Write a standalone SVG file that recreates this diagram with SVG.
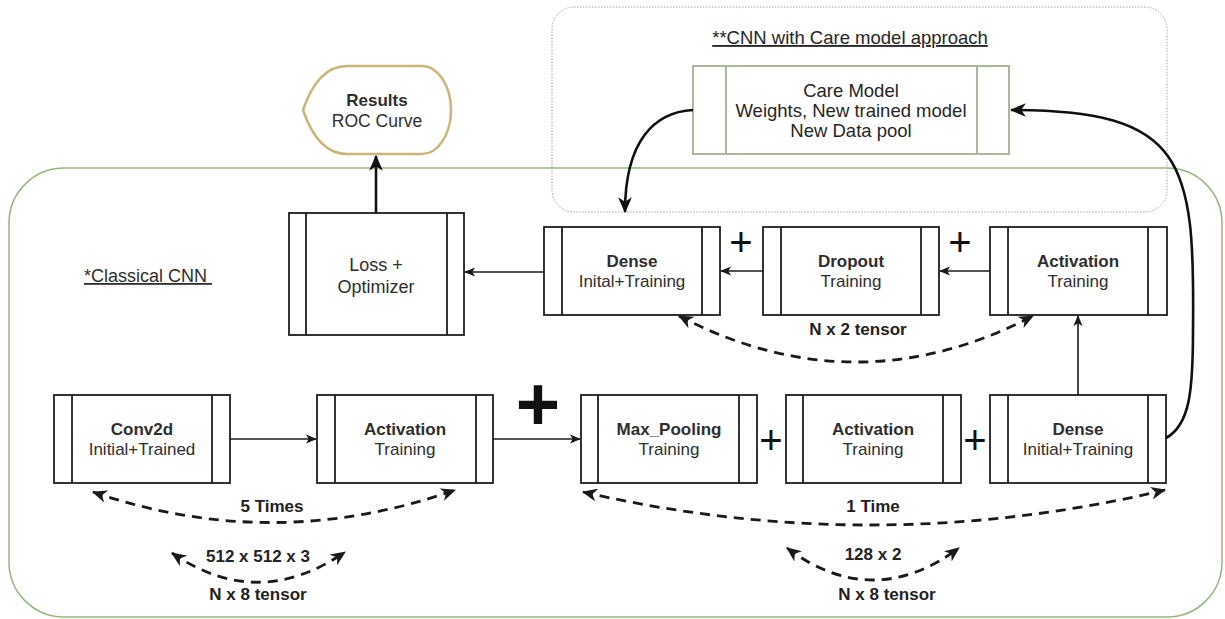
<svg xmlns="http://www.w3.org/2000/svg" width="1225" height="619" viewBox="0 0 1225 619">
  <style>
    text { font-family: "Liberation Sans", Arial, sans-serif; fill: #2e2e2e; text-anchor: middle; }
    .b { font-weight: bold; font-size: 17px; }
    .r { font-size: 17px; }
    .care { font-size: 18.5px; fill: #262626; }
    .lbl { font-weight: bold; font-size: 17px; fill: #222; }
    .plus { font-size: 40px; fill: #111; }
    .box { fill: #fff; stroke: #1e1e1e; stroke-width: 1.8; }
    .side { stroke: #1e1e1e; stroke-width: 1.8; }
    .gbox { fill: #fff; stroke: #a9b79a; stroke-width: 2; }
    .gside { stroke: #a9b79a; stroke-width: 2; }
    .thin { fill: none; stroke: #1a1a1a; stroke-width: 1.6; }
    .thick { fill: none; stroke: #111; stroke-width: 2.6; }
    .dash { fill: none; stroke: #1a1a1a; stroke-width: 2.8; stroke-dasharray: 10 7; }
  </style>
  <defs>
    <marker id="arrowSmall" viewBox="0 0 12 10" refX="11" refY="5" markerWidth="11" markerHeight="10" markerUnits="userSpaceOnUse" orient="auto">
      <path d="M0,0 L12,5 L0,10 L3,5 Z" fill="#1a1a1a"/>
    </marker>
    <marker id="arrowBig" viewBox="0 0 14 12" refX="13" refY="6" markerWidth="16" markerHeight="14" markerUnits="userSpaceOnUse" orient="auto">
      <path d="M0,0 L14,6 L0,12 L4,6 Z" fill="#111"/>
    </marker>
    <marker id="arrowDash" viewBox="0 0 14 12" refX="13" refY="6" markerWidth="15" markerHeight="13" markerUnits="userSpaceOnUse" orient="auto-start-reverse">
      <path d="M0,0 L14,6 L0,12 L4,6 Z" fill="#1a1a1a"/>
    </marker>
  </defs>

  <rect width="1225" height="619" fill="#fff"/>

  <!-- containers -->
  <g id="classical-cnn">
    <rect x="9" y="168" width="1213" height="449" rx="55" ry="55" fill="none" stroke="#93b97c" stroke-width="1.5"/>
    <text x="84" y="282" xml:space="preserve" style="font-size:18px;text-anchor:start;text-decoration:underline">*Classical CNN </text>
  </g>
  <g id="care-approach">
    <rect x="552" y="7" width="615" height="205" rx="22" ry="22" fill="none" stroke="#9ea3a8" stroke-width="1" stroke-dasharray="1.5 1.5"/>
    <text class="care" x="850" y="44" style="text-decoration:underline">**CNN with Care model approach</text>
  </g>

  <!-- nodes -->
  <g id="results">
    <path d="M303,110 Q318,66 347,66 L422,66 A29,44 0 0 1 451,110 A29,44 0 0 1 422,154 L347,154 Q318,154 303,110 Z" fill="#fff" stroke="#cbb57a" stroke-width="2.5"/>
    <text class="b" x="377" y="106">Results</text>
    <text class="r" x="377" y="127" style="font-size:17.5px">ROC Curve</text>
  </g>

  <g id="care-model">
    <rect class="gbox" x="693" y="66" width="316" height="88"/>
    <line class="gside" x1="726" y1="66" x2="726" y2="154"/>
    <line class="gside" x1="977" y1="66" x2="977" y2="154"/>
    <text class="care" x="851" y="97">Care Model</text>
    <text class="care" x="851" y="117">Weights, New trained model</text>
    <text class="care" x="851" y="137">New Data pool</text>
  </g>

  <g id="loss">
    <rect class="box" x="289" y="213" width="175" height="122"/>
    <line class="side" x1="306" y1="213" x2="306" y2="335"/>
    <line class="side" x1="447" y1="213" x2="447" y2="335"/>
    <text x="376" y="271" style="font-size:18px">Loss +</text>
    <text x="376" y="293" style="font-size:18px">Optimizer</text>
  </g>

  <g id="dense-top">
    <rect class="box" x="544" y="227" width="176" height="88"/>
    <line class="side" x1="562" y1="227" x2="562" y2="315"/>
    <line class="side" x1="702" y1="227" x2="702" y2="315"/>
    <text class="b" x="632" y="267">Dense</text>
    <text class="r" x="632" y="287">Inital+Training</text>
  </g>

  <g id="dropout">
    <rect class="box" x="763" y="227" width="176" height="88"/>
    <line class="side" x1="781" y1="227" x2="781" y2="315"/>
    <line class="side" x1="921" y1="227" x2="921" y2="315"/>
    <text class="b" x="851" y="267">Dropout</text>
    <text class="r" x="851" y="287">Training</text>
  </g>

  <g id="activation-top">
    <rect class="box" x="990" y="227" width="177" height="88"/>
    <line class="side" x1="1008" y1="227" x2="1008" y2="315"/>
    <line class="side" x1="1148" y1="227" x2="1148" y2="315"/>
    <text class="b" x="1078" y="267">Activation</text>
    <text class="r" x="1078" y="287">Training</text>
  </g>

  <g id="conv2d">
    <rect class="box" x="54" y="395" width="176" height="88"/>
    <line class="side" x1="72" y1="395" x2="72" y2="483"/>
    <line class="side" x1="212" y1="395" x2="212" y2="483"/>
    <text class="b" x="142" y="435">Conv2d</text>
    <text class="r" x="142" y="455">Initial+Trained</text>
  </g>

  <g id="activation-1">
    <rect class="box" x="317" y="395" width="176" height="88"/>
    <line class="side" x1="335" y1="395" x2="335" y2="483"/>
    <line class="side" x1="476" y1="395" x2="476" y2="483"/>
    <text class="b" x="405" y="435">Activation</text>
    <text class="r" x="405" y="455">Training</text>
  </g>

  <g id="max-pooling">
    <rect class="box" x="581" y="395" width="176" height="88"/>
    <line class="side" x1="598" y1="395" x2="598" y2="483"/>
    <line class="side" x1="739" y1="395" x2="739" y2="483"/>
    <text class="b" x="669" y="435">Max_Pooling</text>
    <text class="r" x="669" y="455">Training</text>
  </g>

  <g id="activation-2">
    <rect class="box" x="786" y="395" width="175" height="88"/>
    <line class="side" x1="803" y1="395" x2="803" y2="483"/>
    <line class="side" x1="943" y1="395" x2="943" y2="483"/>
    <text class="b" x="873" y="435">Activation</text>
    <text class="r" x="873" y="455">Training</text>
  </g>

  <g id="dense-bottom">
    <rect class="box" x="990" y="395" width="176" height="88"/>
    <line class="side" x1="1008" y1="395" x2="1008" y2="483"/>
    <line class="side" x1="1148" y1="395" x2="1148" y2="483"/>
    <text class="b" x="1078" y="435">Dense</text>
    <text class="r" x="1078" y="455">Initial+Training</text>
  </g>

  <!-- plus signs between layers -->
  <g id="plus-signs">
    <text class="plus" x="741" y="256">+</text>
    <text class="plus" x="960" y="256">+</text>
    <text class="plus" x="771" y="454">+</text>
    <text class="plus" x="975" y="454">+</text>
    <text x="538" y="430" style="font-size:76px;font-weight:bold;fill:#111">+</text>
  </g>

  <!-- connectors -->
  <g id="connectors">
    <line class="thick" x1="376" y1="213" x2="376" y2="156" marker-end="url(#arrowBig)"/>
    <line class="thin" x1="544" y1="272" x2="465" y2="272" marker-end="url(#arrowSmall)"/>
    <line class="thin" x1="763" y1="271" x2="721" y2="271" marker-end="url(#arrowSmall)"/>
    <line class="thin" x1="990" y1="271" x2="940" y2="271" marker-end="url(#arrowSmall)"/>
    <line class="thin" x1="1078" y1="395" x2="1078" y2="316" marker-end="url(#arrowSmall)"/>
    <line class="thin" x1="230" y1="439" x2="316" y2="439" marker-end="url(#arrowSmall)"/>
    <line class="thin" x1="493" y1="439" x2="580" y2="439" marker-end="url(#arrowSmall)"/>
    <path class="thick" d="M693,110 C655,112 625,140 625,212" marker-end="url(#arrowBig)"/>
    <path class="thick" d="M1166,438 C1190,425 1193,390 1193,330 C1195,160 1185,110 1011,110" marker-end="url(#arrowBig)"/>

    <path class="dash" d="M679,316 Q856,408 1033,316" marker-start="url(#arrowDash)" marker-end="url(#arrowDash)"/>
    <path class="dash" d="M93,492 Q274,554 455,490" marker-start="url(#arrowDash)" marker-end="url(#arrowDash)"/>
    <path class="dash" d="M172,553 Q258,612 345,552" marker-start="url(#arrowDash)" marker-end="url(#arrowDash)"/>
    <path class="dash" d="M583,492 Q874,559 1165,490" marker-start="url(#arrowDash)" marker-end="url(#arrowDash)"/>
    <path class="dash" d="M787,548 Q873,612 959,548" marker-start="url(#arrowDash)" marker-end="url(#arrowDash)"/>
  </g>

  <!-- edge labels -->
  <g id="edge-labels">
    <text class="lbl" x="858" y="335">N x 2 tensor</text>
    <text class="lbl" x="272" y="512">5 Times</text>
    <text class="lbl" x="258" y="562">512 x 512 x 3</text>
    <text class="lbl" x="258" y="600">N x 8 tensor</text>
    <text class="lbl" x="873" y="512">1 Time</text>
    <text class="lbl" x="873" y="560">128 x 2</text>
    <text class="lbl" x="887" y="600">N x 8 tensor</text>
  </g>
</svg>
